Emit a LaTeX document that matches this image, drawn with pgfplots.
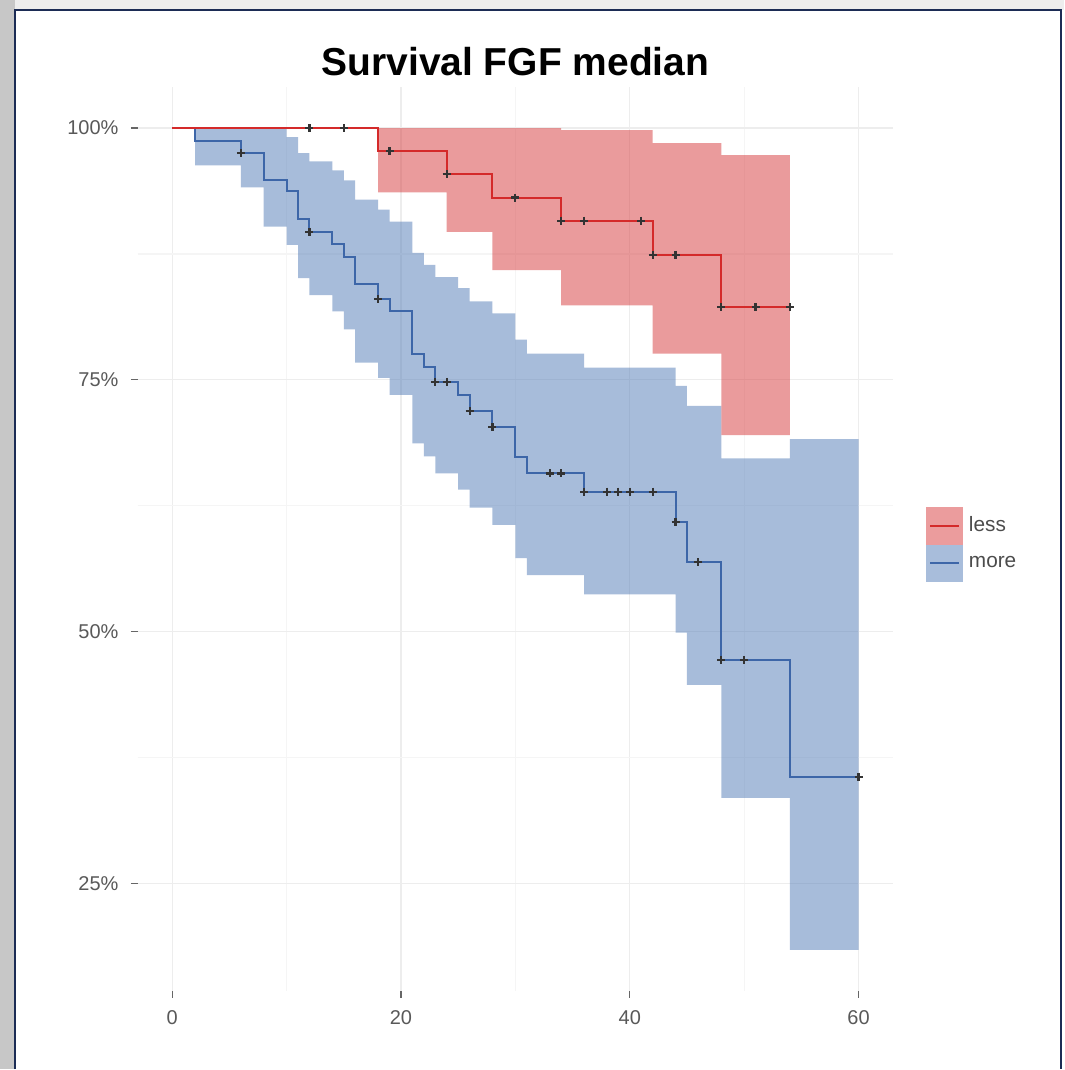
\documentclass[border=0pt]{standalone}
\usepackage{pgfplots}
\pgfplotsset{compat=1.18}
\usepackage{fontspec}
\setmainfont{Liberation Sans}
\definecolor{bandred}{RGB}{215,57,59}
\definecolor{bandblue}{RGB}{81,123,183}
\definecolor{keyred}{RGB}{235,156,157}
\definecolor{keyblue}{RGB}{168,189,219}
\definecolor{linered}{HTML}{D42A2A}
\definecolor{lineblue}{HTML}{3D66A8}
\definecolor{framenavy}{HTML}{1C2C55}

\begin{document}
\begin{tikzpicture}
\fill[white] (0pt,0pt) rectangle (532.5pt,-535pt);
\fill[black!22] (0pt,0pt) rectangle (7.5pt,-535pt);
\fill[black!7] (7.5pt,0pt) rectangle (532.5pt,-5pt);
\draw[framenavy, line width=1pt] (7.5pt,-535pt) -- (7.5pt,-5pt) -- (531pt,-5pt) -- (531pt,-535pt);
\begin{axis}[
  at={(69pt,-43.5pt)}, anchor=north west,
  scale only axis, width=377.85pt, height=452.45pt,
  xmin=-3, xmax=63, ymin=14.32, ymax=104.08,
  axis line style={draw=none},
  tick align=outside, xtick pos=bottom, ytick pos=left,
  major tick length=3.5pt, minor tick length=0pt,
  tick style={black!60, line width=0.6pt},
  xtick={0,20,40,60}, ytick={25,50,75,100},
  minor xtick={10,30,50}, minor ytick={37.5,62.5,87.5},
  grid=both,
  major grid style={color=black!7, line width=0.6pt},
  minor grid style={color=black!4, line width=0.6pt},
  /pgf/number format/assume math mode=true,
  yticklabel={\pgfmathprintnumber{\tick}\%},
  ticklabel style={font=\fontsize{10}{12}\selectfont, text=black!65},
  yticklabel style={xshift=-2.7pt},
  xticklabel style={yshift=-3pt},
  title={Survival FGF median},
  title style={font=\bfseries\fontsize{19.5}{22}\selectfont, anchor=base, at={(0.5,1)}, yshift=-0.15pt},
  legend style={at={(1.0428,0.4937)}, anchor=west, draw=none, fill=none,
    row sep=0pt, inner sep=0pt,
    nodes={inner sep=0pt, font=\fontsize{10.4}{12}\selectfont, text=black!70}},
  legend cell align=left,
]
% confidence band, more
\addplot[fill=bandblue, fill opacity=0.5, draw=none, forget plot] coordinates {
(0,100)(2,100)(6,100)(8,100)(10,100)(10,99.1)(11,99.1)(11,97.5)(12,97.5)(12,96.7)(14,96.7)(14,95.8)(15,95.8)(15,94.8)(16,94.8)(16,92.9)(18,92.9)(18,91.9)(19,91.9)(19,90.7)(21,90.7)(21,87.6)(22,87.6)(22,86.4)(23,86.4)(23,85.2)(25,85.2)(25,84.1)(26,84.1)(26,82.8)(28,82.8)(28,81.6)(30,81.6)(30,79.0)(31,79.0)(31,77.6)(36,77.6)(36,76.2)(44,76.2)(44,74.4)(45,74.4)(45,72.4)(48,72.4)(48,67.2)(54,67.2)(54,69.1)(60,69.1)
(60,18.4)(54,18.4)(54,33.5)(48,33.5)(48,44.7)(45,44.7)(45,49.9)(44,49.9)(44,53.7)(36,53.7)(36,55.6)(31,55.6)(31,57.3)(30,57.3)(30,60.6)(28,60.6)(28,62.3)(26,62.3)(26,64.1)(25,64.1)(25,65.7)(23,65.7)(23,67.4)(22,67.4)(22,68.7)(21,68.7)(21,73.5)(19,73.5)(19,75.2)(18,75.2)(18,76.7)(16,76.7)(16,80.0)(15,80.0)(15,81.8)(14,81.8)(14,83.4)(12,83.4)(12,85.1)(11,85.1)(11,88.4)(10,88.4)(10,90.2)(8,90.2)(8,94.1)(6,94.1)(6,96.3)(2,96.3)(2,100)(0,100)};
% confidence band, less
\addplot[fill=bandred, fill opacity=0.5, draw=none, forget plot] coordinates {
(18,100)(34,100)(34,99.8)(42,99.8)(42,98.5)(48,98.5)(48,97.3)(54,97.3)
(54,69.5)(48,69.5)(48,77.6)(42,77.6)(42,82.4)(34,82.4)(34,85.9)(28,85.9)(28,89.7)(24,89.7)(24,93.6)(18,93.6)};
% curves
\addplot[const plot, lineblue, line width=1pt, forget plot] coordinates {
(0,100)(2,98.7)(6,97.5)(8,94.8)(10,93.7)(11,91.0)(12,89.7)(14,88.5)(15,87.2)(16,84.5)(18,83.0)(19,81.8)(21,77.6)(22,76.3)(23,74.8)(25,73.5)(26,71.9)(28,70.3)(30,67.3)(31,65.7)(36,63.9)(44,60.9)(45,56.9)(48,47.2)(54,35.6)(60,35.6)};
\addplot[const plot, linered, line width=1pt, forget plot] coordinates {
(0,100)(18,97.7)(24,95.4)(28,93.1)(34,90.8)(42,87.4)(48,82.2)(54,82.2)};
% censor marks
\addplot[only marks, mark=+, mark size=2pt, black!80, line width=1.1pt, forget plot] coordinates {
(6,97.5)(12,89.7)(18,83.0)(23,74.8)(24,74.8)(26,71.9)(28,70.3)(33,65.7)(34,65.7)(36,63.9)(38,63.9)(39,63.9)(40,63.9)(42,63.9)(44,60.9)(46,56.9)(48,47.2)(50,47.2)(60,35.6)};
\addplot[only marks, mark=+, mark size=2pt, black!80, line width=1.1pt, forget plot] coordinates {
(12,100)(15,100)(19,97.7)(24,95.4)(30,93.1)(34,90.8)(36,90.8)(41,90.8)(42,87.4)(44,87.4)(48,82.2)(51,82.2)(54,82.2)};
% legend
\addlegendimage{legend image code/.code={
  \fill[keyred, draw=none] (0pt,-9.4pt) rectangle (18.8pt,9.4pt);
  \draw[linered, line width=1pt] (2.3pt,0pt) -- (16.5pt,0pt);
  \path (21.5pt,0pt);}}
\addlegendentry{less}
\addlegendimage{legend image code/.code={
  \fill[keyblue, draw=none] (0pt,-9.4pt) rectangle (18.8pt,9.4pt);
  \draw[lineblue, line width=1pt] (2.3pt,0pt) -- (16.5pt,0pt);
  \path (21.5pt,0pt);}}
\addlegendentry{more}
\end{axis}
\end{tikzpicture}
\end{document}
